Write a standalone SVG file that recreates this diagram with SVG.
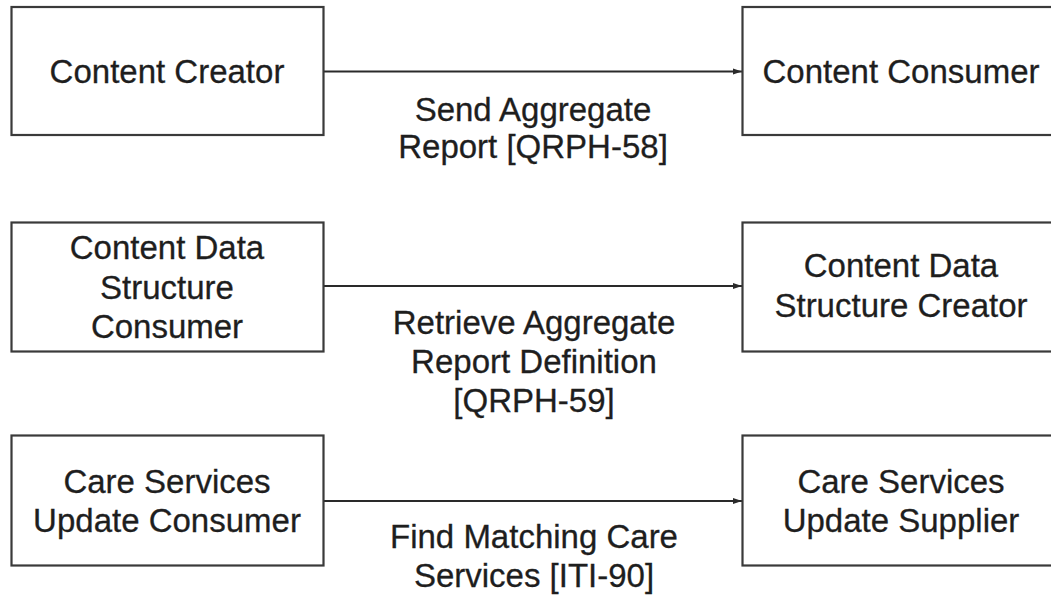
<svg xmlns="http://www.w3.org/2000/svg" width="1051" height="598" viewBox="0 0 1051 598">
<style>
.box{fill:#fff;stroke:#3a3a3a;stroke-width:2.2}
.t{font-family:"Liberation Sans",Arial,sans-serif;font-size:33px;fill:#1e1e1e;stroke:#1e1e1e;stroke-width:0.3;text-anchor:middle}
.c{stroke:#2a2a2a;stroke-width:1.8;fill:none}
</style>
<defs>
<marker id="ah" markerWidth="10" markerHeight="8" refX="9" refY="4" orient="auto" markerUnits="userSpaceOnUse">
<path d="M0,1 L9,4 L0,7 Z" fill="#2a2a2a"/>
</marker>
</defs>
<rect width="1051" height="598" fill="#fff"/>
<g id="connectors">
<line class="c" x1="324" y1="71.5" x2="742" y2="71.5" marker-end="url(#ah)"/>
<line class="c" x1="324" y1="286" x2="742" y2="286" marker-end="url(#ah)"/>
<line class="c" x1="324" y1="501" x2="742" y2="501" marker-end="url(#ah)"/>
<text class="t" x="533" y="120.5">Send Aggregate</text>
<text class="t" x="533" y="158">Report [QRPH-58]</text>
<text class="t" x="534" y="334">Retrieve Aggregate</text>
<text class="t" x="534" y="373">Report Definition</text>
<text class="t" x="534" y="412">[QRPH-59]</text>
<text class="t" x="534" y="548">Find Matching Care</text>
<text class="t" x="534" y="587">Services [ITI-90]</text>
</g>
<g id="content-creator">
<rect class="box" x="11.5" y="7" width="312" height="128"/>
<text class="t" x="167" y="83">Content Creator</text>
</g>
<g id="content-consumer">
<rect class="box" x="742.5" y="7" width="320" height="128"/>
<text class="t" x="901" y="83">Content Consumer</text>
</g>
<g id="cds-consumer">
<rect class="box" x="11.5" y="222.5" width="312" height="129"/>
<text class="t" x="167" y="259">Content Data</text>
<text class="t" x="167" y="298.5">Structure</text>
<text class="t" x="167" y="338">Consumer</text>
</g>
<g id="cds-creator">
<rect class="box" x="742.5" y="222.5" width="320" height="129"/>
<text class="t" x="901" y="277">Content Data</text>
<text class="t" x="901" y="316.5">Structure Creator</text>
</g>
<g id="csu-consumer">
<rect class="box" x="11.5" y="435.5" width="312" height="130"/>
<text class="t" x="167" y="493">Care Services</text>
<text class="t" x="167" y="531.5">Update Consumer</text>
</g>
<g id="csu-supplier">
<rect class="box" x="742.5" y="435.5" width="320" height="130"/>
<text class="t" x="901" y="493">Care Services</text>
<text class="t" x="901" y="531.5">Update Supplier</text>
</g>
</svg>
